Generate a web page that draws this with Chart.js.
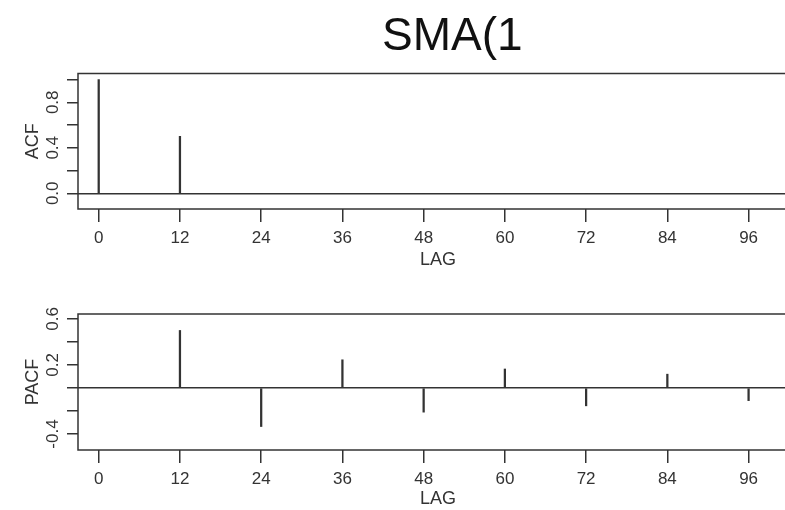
<!DOCTYPE html>
<html>
<head>
<meta charset="utf-8">
<script src="https://cdn.jsdelivr.net/npm/chart.js@4"></script>
<style>
  html, body { margin: 0; padding: 0; background: #fff; }
  #wrap { position: relative; width: 785px; height: 510px; overflow: hidden; background: #fff; }
  canvas { position: absolute; left: 0; }
  #c1 { top: 0; }
  #c2 { top: 280px; }
</style>
</head>
<body>
<div id="wrap">
  <canvas id="c1" width="810" height="271"></canvas>
  <canvas id="c2" width="810" height="230"></canvas>
</div>
<script>
// ---- data ----
const titleText = 'SMA(1';
const lagTicks = [0, 12, 24, 36, 48, 60, 72, 84, 96];
const acfLags = [0, 12, 24, 36, 48, 60, 72, 84, 96];
const acfValues = [1.0, 0.5, 0, 0, 0, 0, 0, 0, 0];
const pacfLags = [12, 24, 36, 48, 60, 72, 84, 96];
const pacfValues = [0.50, -0.335, 0.245, -0.21, 0.165, -0.155, 0.12, -0.11];
const acfTicks = [0.0, 0.2, 0.4, 0.6, 0.8, 1.0];
const acfTickLabels = ['0.0', '', '0.4', '', '0.8', ''];
const pacfTicks = [-0.4, -0.2, 0.0, 0.2, 0.4, 0.6];
const pacfTickLabels = ['-0.4', '', '', '0.2', '', '0.6'];

const INK = '#333333';
const FONT = '"Liberation Sans", Arial, Helvetica, sans-serif';

const boxPlugin = {
  id: 'rbox',
  afterDraw(chart) {
    const a = chart.chartArea, ctx = chart.ctx;
    ctx.save();
    ctx.strokeStyle = INK;
    ctx.lineWidth = 1.5;
    ctx.strokeRect(a.left, a.top, a.right - a.left, a.bottom - a.top);
    ctx.restore();
  }
};

const titlePlugin = {
  id: 'rtitle',
  afterDraw(chart, args, opts) {
    if (!opts || !opts.text) return;
    const ctx = chart.ctx;
    ctx.save();
    ctx.fillStyle = '#111';
    ctx.font = '46px ' + FONT;
    ctx.textAlign = 'left';
    ctx.textBaseline = 'alphabetic';
    ctx.fillText(opts.text, opts.x, opts.y);
    ctx.restore();
  }
};

function makeChart(id, lags, values, yTicks, yLabels, yMin, yMax, yTitle, padTop, xAxisH, yLabPad, title) {
  const data = lags.map((l, i) => ({ x: l, y: values[i] }));
  return new Chart(document.getElementById(id), {
    type: 'bar',
    data: {
      datasets: [{
        data: data,
        backgroundColor: INK,
        borderWidth: 0,
        barThickness: 1.6
      }]
    },
    plugins: [boxPlugin, titlePlugin],
    options: {
      responsive: false,
      animation: false,
      layout: { padding: { top: padTop, left: 0, right: 12, bottom: 0 } },
      plugins: {
        legend: { display: false },
        tooltip: { enabled: false },
        rtitle: title ? { text: title, x: 382, y: 50 } : {}
      },
      scales: {
        x: {
          type: 'linear',
          offset: false,
          min: -3.06,
          max: 103.3,
          afterBuildTicks: s => { s.ticks = lagTicks.map(v => ({ value: v })); },
          afterFit: s => { s.height = xAxisH; },
          ticks: {
            autoSkip: false,
            maxRotation: 0,
            minRotation: 0,
            padding: 6,
            color: INK,
            font: { family: FONT, size: 17 },
            callback: v => String(v)
          },
          grid: {
            offset: false,
            drawOnChartArea: false,
            drawTicks: true,
            tickLength: 13,
            tickColor: INK,
            color: INK,
            lineWidth: 1.5
          },
          border: { display: false },
          title: {
            display: true,
            text: 'LAG',
            color: INK,
            font: { family: FONT, size: 18, lineHeight: 1.2 },
            padding: { top: 0, bottom: 0 }
          }
        },
        y: {
          type: 'linear',
          min: yMin,
          max: yMax,
          afterBuildTicks: s => { s.ticks = yTicks.map(v => ({ value: v })); },
          afterFit: s => { s.width = 78; },
          ticks: {
            autoSkip: false,
            minRotation: 90,
            maxRotation: 90,
            crossAlign: 'center',
            padding: yLabPad,
            color: INK,
            font: { family: FONT, size: 17 },
            callback: (v, i) => yLabels[i]
          },
          grid: {
            drawOnChartArea: true,
            drawTicks: true,
            tickLength: 11,
            tickColor: INK,
            lineWidth: 1.5,
            color: c => (c.tick && Math.abs(c.tick.value) < 1e-9) ? INK : 'rgba(0,0,0,0)'
          },
          border: { display: false },
          title: {
            display: true,
            text: yTitle,
            color: INK,
            font: { family: FONT, size: 18, lineHeight: 1.2 },
            padding: { top: 22, bottom: 0 }
          }
        }
      }
    }
  });
}

makeChart('c1', acfLags, acfValues, acfTicks, acfTickLabels, -0.138, 1.053, 'ACF', 73.5, 62, 2, titleText);
makeChart('c2', pacfLags, pacfValues, pacfTicks, pacfTickLabels, -0.539, 0.643, 'PACF', 34, 60, -1, null);
</script>
</body>
</html>
